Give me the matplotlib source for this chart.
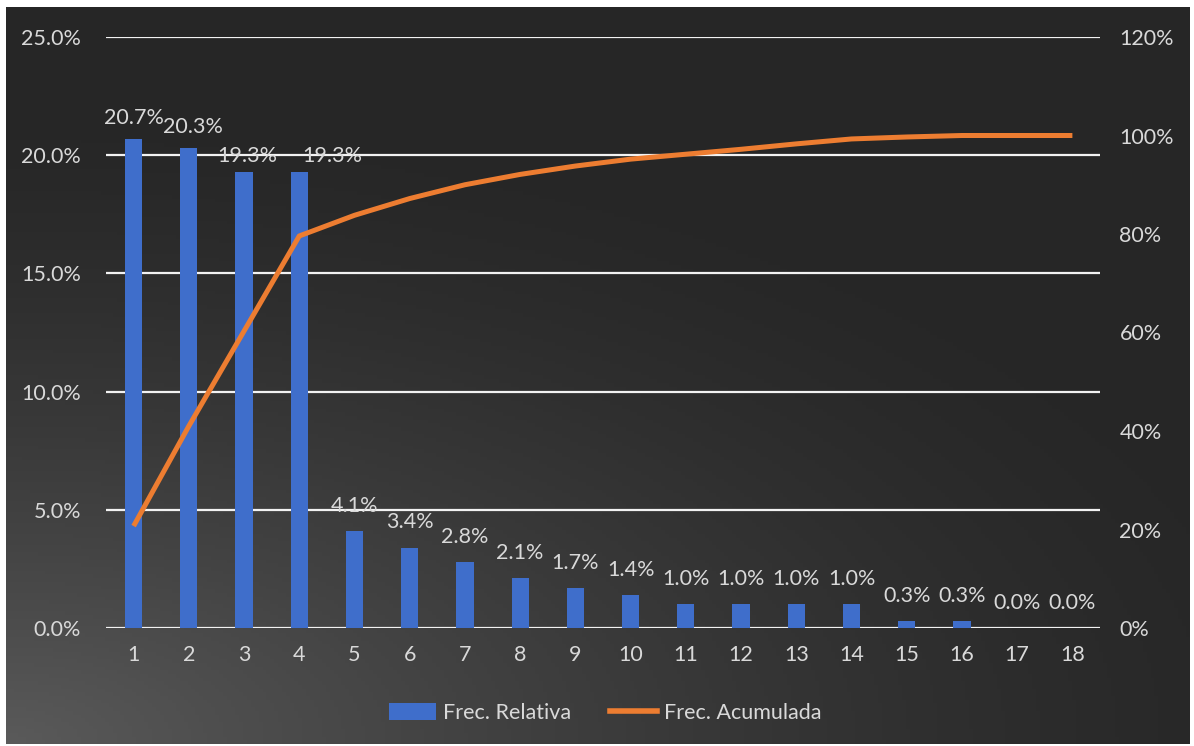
import numpy as np
import matplotlib.pyplot as plt
from matplotlib.patches import Patch
from matplotlib.lines import Line2D
from matplotlib.colors import LinearSegmentedColormap

categorias = [str(i) for i in range(1, 19)]
frec_relativa = [20.7, 20.3, 19.3, 19.3, 4.1, 3.4, 2.8, 2.1, 1.7, 1.4,
                 1.0, 1.0, 1.0, 1.0, 0.3, 0.3, 0.0, 0.0]
frec_acumulada = [20.7, 41.0, 60.3, 79.6, 83.8, 87.2, 90.0, 92.1, 93.8, 95.2,
                  96.2, 97.2, 98.3, 99.3, 99.7, 100.0, 100.0, 100.0]

plt.rcParams['font.family'] = ['Lato', 'DejaVu Sans']
txt = '#d9d9d9'
fs = 15.5

fig = plt.figure(figsize=(11.94, 7.46), dpi=100)
fig.patch.set_facecolor('white')

# fondo con degradado
bg = fig.add_axes([6/1194, 2/746, 1184/1194, 737/746])
bg.set_axis_off()
yy, xx = np.mgrid[0:1:200j, 0:1:300j]
d = np.clip(1 - np.sqrt((xx * 1.0) ** 2 + ((1 - yy) * 1.3) ** 2) / 1.15, 0, 1)
cmap = LinearSegmentedColormap.from_list('bg', ['#262626', '#5a5a5a'])
bg.imshow(d ** 1.5, cmap=cmap, aspect='auto', origin='upper', extent=[0, 1, 0, 1])

ax = fig.add_axes([106/1194, 1 - 628/746, 994/1194, 591/746])
ax.patch.set_alpha(0)
x = np.arange(len(categorias))
ax.bar(x, frec_relativa, width=0.31, color='#3f6ecb', zorder=3)

# etiquetas desplazadas como en Excel para que no se encimen
ajuste = {0: (0, 8), 1: (3, 8), 2: (2, 4), 3: (24, 4)}
for i, (xi, v) in enumerate(zip(x, frec_relativa)):
    dx, dy = ajuste.get(i, (0, 11))
    ax.annotate(f'{v:.1f}%', (xi, v), xytext=(dx, dy), textcoords='offset points',
                ha='center', va='bottom', color=txt, fontsize=fs, zorder=2)

ax.set_xlim(-0.5, len(categorias) - 0.5)
ax.set_ylim(0, 25)
ax.set_yticks(np.arange(0, 26, 5))
ax.set_yticklabels([f'{v:.1f}%' for v in np.arange(0, 26, 5)])
ax.set_xticks(x)
ax.set_xticklabels(categorias)
ax.grid(axis='y', color='#f2f2f2', linewidth=1.6, zorder=4)
for s in ax.spines.values():
    s.set_visible(False)
ax.tick_params(colors=txt, labelsize=fs, length=0)
ax.tick_params(axis='y', pad=18)
ax.tick_params(axis='x', pad=12)

ax2 = ax.twinx()
ax2.plot(x, frec_acumulada, color='#ed7d31', linewidth=3.6, zorder=4,
         solid_capstyle='butt')
ax2.set_ylim(0, 120)
ax2.set_yticks(np.arange(0, 121, 20))
ax2.set_yticklabels([f'{v}%' for v in range(0, 121, 20)])
for s in ax2.spines.values():
    s.set_visible(False)
ax2.tick_params(colors=txt, labelsize=fs, length=0, pad=14)

handles = [Patch(facecolor='#3f6ecb', label='Frec. Relativa'),
           Line2D([0], [0], color='#ed7d31', linewidth=4, label='Frec. Acumulada')]
fig.legend(handles=handles, loc='center', bbox_to_anchor=(605/1194, 1 - 713/746),
           ncol=2, frameon=False, fontsize=fs, labelcolor=txt,
           handlelength=2.2, handleheight=0.8, columnspacing=1.8, handletextpad=0.3)

fig.savefig('out.png', dpi=100)
